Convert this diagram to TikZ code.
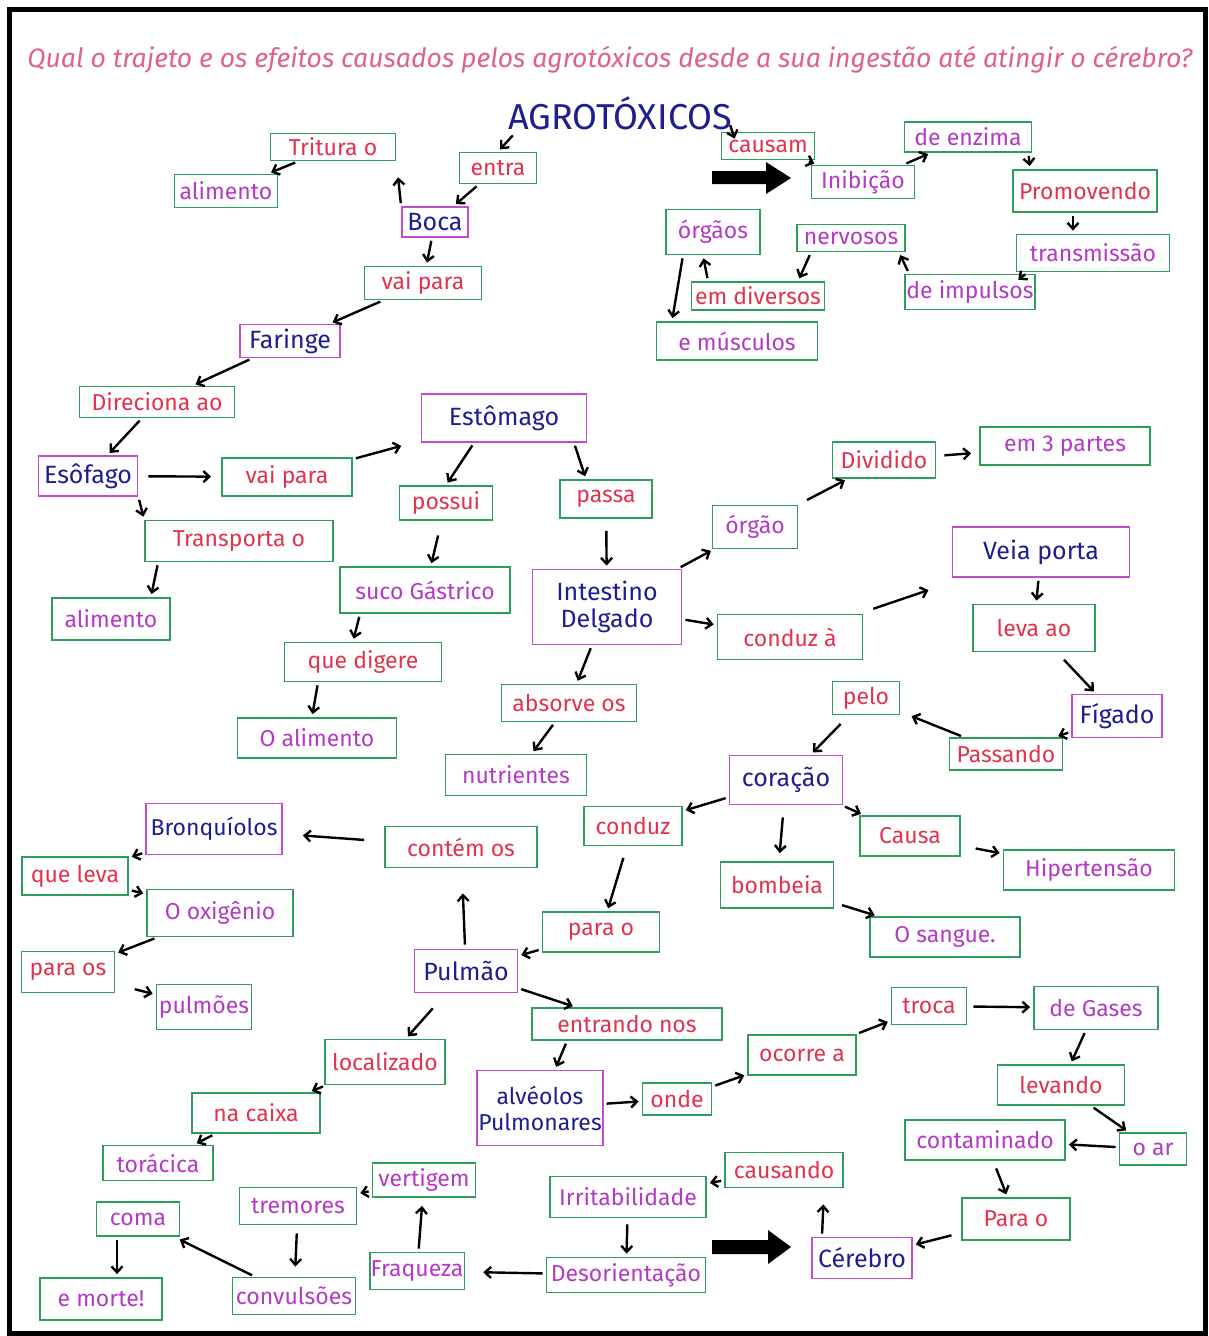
\documentclass[tikz,border=0pt]{standalone}
\usepackage{fontspec}
\setmainfont{Fira Sans}
\usetikzlibrary{arrows.meta}
\definecolor{grn}{HTML}{2E9D5C}
\definecolor{mag}{HTML}{C24BD0}
\definecolor{redt}{HTML}{E2334E}
\definecolor{purp}{HTML}{B43AC6}
\definecolor{navy}{HTML}{1E1E90}
\definecolor{pinkq}{HTML}{E0608E}
\begin{document}
\begin{tikzpicture}[x=1pt,y=-1pt,
  box/.style={draw, line width=1.8pt, inner sep=1pt, align=center, font=\fontsize{23}{25}\selectfont},
  concept/.style={box, draw=mag, text=navy, font=\fontsize{25}{27}\selectfont},
  lnk/.style={box, draw=grn, text=redt},
  obj/.style={box, draw=grn, text=purp},
  sz/.style 2 args={minimum width=#1pt, minimum height=#2pt},
  arr/.style={draw=black, line width=2.4pt, -{Straight Barb[length=6pt,width=11pt,line width=2.4pt]}, shorten >=3pt, shorten <=3pt},
  bigarrow/.style={fill=black}
]
\useasboundingbox (0,0) rectangle (1209,1336);
\fill[white] (0,0) rectangle (1209,1336);
\draw[line width=5pt] (9,9) rectangle (1205,1333);

% titles
\node[text=pinkq, inner sep=0pt] (question) at (610,60) {\resizebox{1165pt}{!}{\fontsize{24}{26}\selectfont\itshape Qual o trajeto e os efeitos causados pelos agrotóxicos desde a sua ingestão até atingir o cérebro?}};
\node[text=navy, inner sep=0pt, font=\fontsize{36}{40}\selectfont, minimum width=240pt, minimum height=40pt] (agro) at (620,113) {AGROTÓXICOS};

% top left
\node[lnk, sz={125}{27}] (tritura) at (333,147) {Tritura o};
\node[obj, sz={103}{33}] (alimento1) at (226,191) {alimento};
\node[lnk, sz={77}{31}] (entra) at (498,168) {entra};
\node[concept, sz={66}{30}] (boca) at (435,222) {Boca};
\node[lnk, sz={117}{33}] (vaipara1) at (423,283) {vai para};
\node[concept, sz={100}{33}] (faringe) at (290,341) {Faringe};
\node[lnk, sz={155}{31}] (direciona) at (157,402) {Direciona ao};
\node[concept, sz={99}{40}] (esofago) at (88,476) {Esôfago};
\node[lnk, sz={130}{38}] (vaipara2) at (287,477) {vai para};
\node[lnk, sz={188}{41}] (transporta) at (239,541) {Transporta o};
\node[obj, sz={118}{42}] (alimento2) at (111,619) {alimento};

% stomach / intestine
\node[concept, sz={165}{48}] (estomago) at (504,418) {Estômago};
\node[lnk, sz={93}{34}] (possui) at (446,503) {possui};
\node[lnk, sz={92}{38}] (passa) at (606,499) {passa};
\node[obj, sz={170}{46}] (suco) at (425,590) {suco Gástrico};
\node[lnk, sz={157}{39}] (quedigere) at (363,662) {que digere};
\node[obj, sz={159}{40}] (oalimento) at (317,738) {O alimento};
\node[concept, sz={149}{75}] (intestino) at (607,607) {Intestino\\Delgado};
\node[lnk, sz={135}{37}] (absorve) at (569,703) {absorve os};
\node[obj, sz={141}{41}] (nutrientes) at (516,775) {nutrientes};
\node[obj, sz={85}{43}] (orgao) at (755,527) {órgão};
\node[lnk, sz={103}{36}] (dividido) at (884,460) {Dividido};
\node[obj, sz={170}{38}] (em3partes) at (1065,446) {em 3 partes};
\node[lnk, sz={145}{45}] (conduza) at (790,637) {conduz à};
\node[concept, sz={177}{50}] (veiaporta) at (1041,552) {Veia porta};
\node[lnk, sz={122}{47}] (levaao) at (1034,628) {leva ao};
\node[concept, sz={90}{43}] (figado) at (1117,716) {Fígado};
\node[lnk, sz={113}{32}] (passando) at (1006,754) {Passando};
\node[lnk, sz={67}{33}] (pelo) at (866,698) {pelo};
\node[concept, sz={113}{49}] (coracao) at (786,780) {coração};
\node[lnk, sz={98}{39}] (conduz) at (633,826) {conduz};
\node[lnk, sz={100}{40}] (causa) at (910,836) {Causa};
\node[obj, sz={171}{40}] (hipertensao) at (1089,870) {Hipertensão};
\node[lnk, sz={113}{46}] (bombeia) at (777,885) {bombeia};
\node[obj, sz={150}{40}] (osangue) at (945,937) {O sangue.};

% lungs
\node[lnk, sz={152}{41}] (contemos) at (461,847) {contém os};
\node[concept, sz={136}{51}, font=\fontsize{23}{25}\selectfont] (bronquiolos) at (214,829) {Bronquíolos};
\node[lnk, sz={106}{38}] (queleva) at (75,876) {que leva};
\node[obj, sz={146}{47}] (ooxigenio) at (220,913) {O oxigênio};
\node[lnk, sz={93}{41}] (paraos) at (68,972) {para os};
\node[obj, sz={95}{45}] (pulmoes) at (204,1007) {pulmões};
\node[lnk, sz={117}{40}] (parao1) at (601,932) {para o};
\node[concept, sz={103}{43}] (pulmao) at (466,971) {Pulmão};
\node[lnk, sz={190}{32}] (entrandonos) at (627,1024) {entrando nos};
\node[lnk, sz={120}{45}] (localizado) at (385,1062) {localizado};
\node[lnk, sz={128}{40}] (nacaixa) at (256,1113) {na caixa};
\node[obj, sz={110}{35}] (toracica) at (158,1163) {torácica};
\node[concept, sz={125}{75}, font=\fontsize{23}{26}\selectfont] (alveolos) at (540,1108) {alvéolos\\Pulmonares};
\node[lnk, sz={69}{32}] (onde) at (677,1099) {onde};
\node[lnk, sz={108}{40}] (ocorrea) at (802,1055) {ocorre a};
\node[lnk, sz={75}{37}] (troca) at (929,1006) {troca};
\node[obj, sz={124}{43}] (degases) at (1096,1008) {de Gases};
\node[lnk, sz={127}{40}] (levando) at (1061,1085) {levando};
\node[obj, sz={67}{32}] (oar) at (1153,1149) {o ar};
\node[obj, sz={160}{40}] (contaminado) at (985,1140) {contaminado};
\node[lnk, sz={108}{42}] (parao2) at (1016,1219) {Para o};
\node[concept, sz={100}{41}] (cerebro) at (862,1258) {Cérebro};

% effects
\node[lnk, sz={118}{35}] (causando) at (784,1170) {causando};
\node[obj, sz={156}{41}] (irritabilidade) at (628,1197) {Irritabilidade};
\node[obj, sz={159}{35}] (desorientacao) at (626,1275) {Desorientação};
\node[obj, sz={94}{37}] (fraqueza) at (417,1271) {Fraqueza};
\node[obj, sz={103}{34}] (vertigem) at (424,1180) {vertigem};
\node[obj, sz={117}{37}] (tremores) at (298,1206) {tremores};
\node[obj, sz={123}{37}] (convulsoes) at (294,1296) {convulsões};
\node[obj, sz={83}{34}] (coma) at (138,1219) {coma};
\node[obj, sz={122}{42}] (emorte) at (101,1299) {e morte!};

% top right
\node[lnk, sz={93}{27}] (causam) at (768,146) {causam};
\node[obj, sz={103}{33}] (inibicao) at (863,182) {Inibição};
\node[obj, sz={127}{30}] (deenzima) at (968,137) {de enzima};
\node[lnk, sz={144}{42}] (promovendo) at (1085,191) {Promovendo};
\node[obj, sz={153}{37}] (transmissao) at (1093,253) {transmissão};
\node[obj, sz={130}{35}] (deimpulsos) at (970,292) {de impulsos};
\node[obj, sz={108}{27}] (nervosos) at (851,238) {nervosos};
\node[lnk, sz={133}{28}] (emdiversos) at (758,296) {em diversos};
\node[obj, sz={94}{45}] (orgaos) at (713,232) {órgãos};
\node[obj, sz={161}{38}] (emusculos) at (737,341) {e músculos};

% block arrows
\fill[bigarrow] (712,171) -- (766,171) -- (766,162) -- (791,178) -- (766,194) -- (766,184) -- (712,184) -- cycle;
\fill[bigarrow] (712,1240) -- (768,1240) -- (768,1230) -- (791,1247) -- (768,1264) -- (768,1254) -- (712,1254) -- cycle;

% connectors
\draw[arr] ([xshift=15pt]agro.south west) -- (entra.north);
\draw[arr, shorten <=0pt, shorten >=0pt] ([xshift=-10pt,yshift=8pt]agro.south east) -- ([xshift=14pt,yshift=-7pt]causam.north west);
\draw[arr] (entra) -- (boca);
\draw[arr, shorten >=16pt] (boca.north west) -- (tritura.south east);
\draw[arr] (tritura) -- (alimento1);
\draw[arr] (boca) -- (vaipara1);
\draw[arr] (vaipara1) -- (faringe);
\draw[arr] (faringe) -- (direciona);
\draw[arr] (direciona) -- (esofago);
\draw[arr, shorten <=10pt, shorten >=10pt] (esofago) -- (vaipara2);
\draw[arr, shorten >=20pt] (vaipara2) -- (estomago);
\draw[arr] (esofago.south east) -- (transporta.north west);
\draw[arr] ([xshift=14pt]transporta.south west) -- ([xshift=-20pt]alimento2.north east);
\draw[arr] ([xshift=-30pt]estomago.south) -- (possui.north);
\draw[arr] ([xshift=70pt]estomago.south) -- ([xshift=-20pt]passa.north);
\draw[arr, shorten <=15pt] (possui) -- (suco);
\draw[arr] ([xshift=-65pt]suco.south) -- ([xshift=-10pt]quedigere.north);
\draw[arr] ([xshift=-45pt]quedigere.south) -- ([xshift=-5pt]oalimento.north);
\draw[arr, shorten <=12pt] (passa) -- (intestino);
\draw[arr] (intestino) -- (absorve);
\draw[arr] (absorve) -- (nutrientes);
\draw[arr] (intestino) -- (orgao);
\draw[arr, shorten <=10pt] (orgao) -- (dividido);
\draw[arr, shorten <=8pt, shorten >=8pt] (dividido) -- (em3partes);
\draw[arr] (intestino) -- (conduza);
\draw[arr, shorten <=15pt, shorten >=38pt] (conduza) -- (veiaporta);
\draw[arr] (veiaporta) -- (levaao);
\draw[arr, shorten <=10pt] (levaao) -- (figado);
\draw[arr] (figado) -- (passando);
\draw[arr, shorten >=12pt] (passando) -- (pelo);
\draw[arr, shorten <=12pt] (pelo) -- (coracao);
\draw[arr] (coracao) -- (conduz);
\draw[arr, shorten <=12pt, shorten >=8pt] (coracao) -- (bombeia);
\draw[arr] (coracao) -- (causa);
\draw[arr, shorten <=15pt] (causa) -- (hipertensao);
\draw[arr, shorten <=8pt] (bombeia) -- (osangue);
\draw[arr, shorten <=12pt] (conduz) -- (parao1);
\draw[arr] (parao1) -- (pulmao);
\draw[arr, shorten <=4pt, shorten >=25pt] (pulmao) -- (contemos);
\draw[arr, shorten <=20pt, shorten >=20pt] (contemos) -- (bronquiolos);
\draw[arr] (bronquiolos) -- (queleva);
\draw[arr] (queleva) -- (ooxigenio);
\draw[arr] (ooxigenio) -- (paraos);
\draw[arr, shorten <=20pt] (paraos) -- (pulmoes);
\draw[arr] (pulmao) -- (entrandonos);
\draw[arr, shorten <=20pt] (pulmao) -- (localizado);
\draw[arr] (localizado) -- (nacaixa);
\draw[arr] (nacaixa) -- (toracica);
\draw[arr] ([xshift=-60pt]entrandonos.south) -- ([xshift=15pt]alveolos.north);
\draw[arr] (alveolos) -- (onde);
\draw[arr] (onde) -- (ocorrea);
\draw[arr] (ocorrea) -- (troca);
\draw[arr, shorten <=6pt] (troca) -- (degases);
\draw[arr] (degases) -- (levando);
\draw[arr] (levando) -- (oar);
\draw[arr] (oar) -- (contaminado);
\draw[arr, shorten <=8pt] (contaminado) -- (parao2);
\draw[arr, shorten <=10pt] (parao2) -- (cerebro);
\draw[arr, shorten >=16pt] ([xshift=-40pt]cerebro.north) -- ([xshift=40pt]causando.south);
\draw[arr] (causando) -- (irritabilidade);
\draw[arr, shorten <=6pt] (irritabilidade) -- (desorientacao);
\draw[arr, shorten >=18pt] (desorientacao) -- (fraqueza);
\draw[arr, shorten >=8pt] (fraqueza) -- (vertigem);
\draw[arr] (vertigem) -- (tremores);
\draw[arr, shorten <=8pt, shorten >=10pt] (tremores) -- (convulsoes);
\draw[arr, shorten >=6pt] (convulsoes) -- (coma);
\draw[arr] ([xshift=-21pt]coma.south) -- ([xshift=16pt]emorte.north);
\draw[arr] (causam) -- (inibicao);
\draw[arr] (inibicao) -- (deenzima);
\draw[arr] ([xshift=-4pt]deenzima.south east) -- ([xshift=-55pt]promovendo.north);
\draw[arr] ([xshift=-12pt]promovendo.south) -- ([xshift=-20pt]transmissao.north);
\draw[arr] ([xshift=12pt]transmissao.south west) -- ([xshift=-20pt,yshift=-8pt]deimpulsos.north east);
\draw[arr] ([xshift=5pt]deimpulsos.north west) -- ([xshift=-7pt]nervosos.south east);
\draw[arr] ([xshift=-40pt]nervosos.south) -- ([xshift=40pt]emdiversos.north);
\draw[arr] ([xshift=-50pt]emdiversos.north) -- ([xshift=-10pt]orgaos.south);
\draw[arr] ([xshift=-30pt]orgaos.south) -- ([xshift=-65pt]emusculos.north);
\end{tikzpicture}
\end{document}
